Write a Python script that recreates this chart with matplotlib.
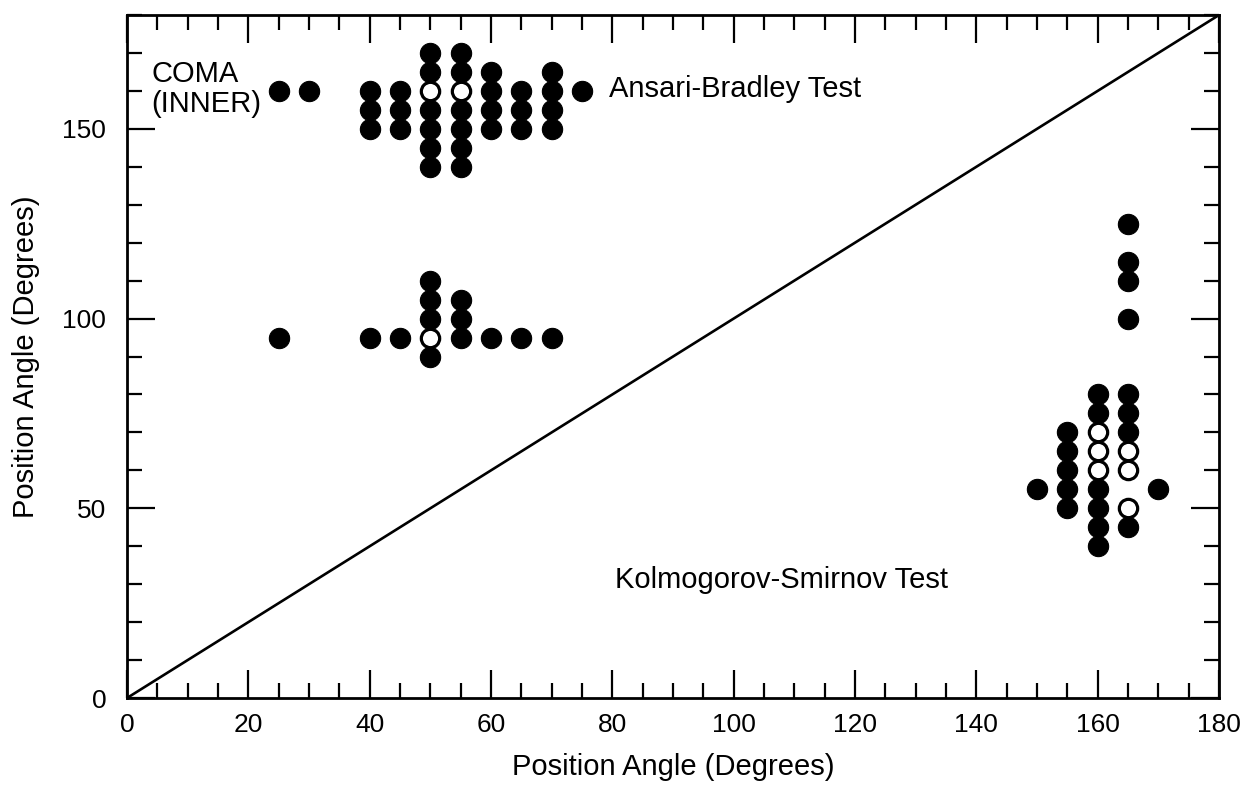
import matplotlib
matplotlib.use('Agg')
import matplotlib.pyplot as plt
from matplotlib.ticker import MultipleLocator

plt.rcParams['font.family'] = ['Liberation Sans', 'DejaVu Sans']

# Ansari-Bradley group (upper)
ab_filled_x = [25, 30, 40, 40, 40, 45, 45, 45,
               50, 50, 50, 50, 50, 50,
               55, 55, 55, 55, 55, 55,
               60, 60, 60, 60, 65, 65, 65, 70, 70, 70, 70, 75]
ab_filled_y = [160, 160, 160, 155, 150, 160, 155, 150,
               170, 165, 155, 150, 145, 140,
               170, 165, 155, 150, 145, 140,
               165, 160, 155, 150, 160, 155, 150, 165, 160, 155, 150, 160]
ab_open_x = [50, 55]
ab_open_y = [160, 160]

# middle group
mid_filled_x = [25, 40, 45, 50, 50, 50, 50, 55, 55, 55, 60, 65, 70]
mid_filled_y = [95, 95, 95, 110, 105, 100, 90, 105, 100, 95, 95, 95, 95]
mid_open_x = [50]
mid_open_y = [95]

# Kolmogorov-Smirnov group (lower right)
ks_filled_x = [150, 155, 155, 155, 155, 155,
               160, 160, 160, 160, 160, 160,
               165, 165, 165, 165, 165, 165, 165, 165, 170]
ks_filled_y = [55, 70, 65, 60, 55, 50,
               80, 75, 55, 50, 45, 40,
               125, 115, 110, 100, 80, 75, 70, 45, 55]
ks_open_x = [160, 160, 160, 165, 165, 165]
ks_open_y = [70, 65, 60, 65, 60, 50]

diag = [0, 180]

fig = plt.figure(figsize=(12.6, 7.85), dpi=100)
ax = fig.add_axes([0.1008, 0.1108, 0.8667, 0.8701])
ax.set_xlim(0, 180)
ax.set_ylim(0, 180)

ax.plot(diag, diag, color='black', lw=1.9, zorder=2)

filled_x = ab_filled_x + mid_filled_x + ks_filled_x
filled_y = ab_filled_y + mid_filled_y + ks_filled_y
open_x = ab_open_x + mid_open_x + ks_open_x
open_y = ab_open_y + mid_open_y + ks_open_y

ax.plot(filled_x, filled_y, 'o', ls='none', ms=14.6, mfc='black', mec='black',
        mew=0.8, zorder=3)
ax.plot(open_x, open_y, 'o', ls='none', ms=13.2, mfc='white', mec='black',
        mew=2.3, zorder=4)

ax.xaxis.set_major_locator(MultipleLocator(20))
ax.xaxis.set_minor_locator(MultipleLocator(5))
ax.yaxis.set_major_locator(MultipleLocator(50))
ax.yaxis.set_minor_locator(MultipleLocator(10))

ax.tick_params(which='both', direction='in', top=True, right=True,
               width=1.6, color='black', labelsize=19)
ax.tick_params(which='major', length=20)
ax.tick_params(which='minor', length=11)
ax.tick_params(axis='x', pad=11)
ax.tick_params(axis='y', pad=15)
for s in ax.spines.values():
    s.set_linewidth(2.0)

fs = 21
ax.text(4, 164.5, 'COMA', ha='left', va='center', fontsize=fs)
ax.text(4, 156.5, '(INNER)', ha='left', va='center', fontsize=fs)
ax.text(79.5, 160.5, 'Ansari-Bradley Test', ha='left', va='center', fontsize=fs)
ax.text(80.5, 31, 'Kolmogorov-Smirnov Test', ha='left', va='center', fontsize=fs)

ax.set_xlabel('Position Angle (Degrees)', fontsize=fs, labelpad=11)
ax.set_ylabel('Position Angle (Degrees)', fontsize=fs, labelpad=16)

fig.savefig('out.png', dpi=100)
